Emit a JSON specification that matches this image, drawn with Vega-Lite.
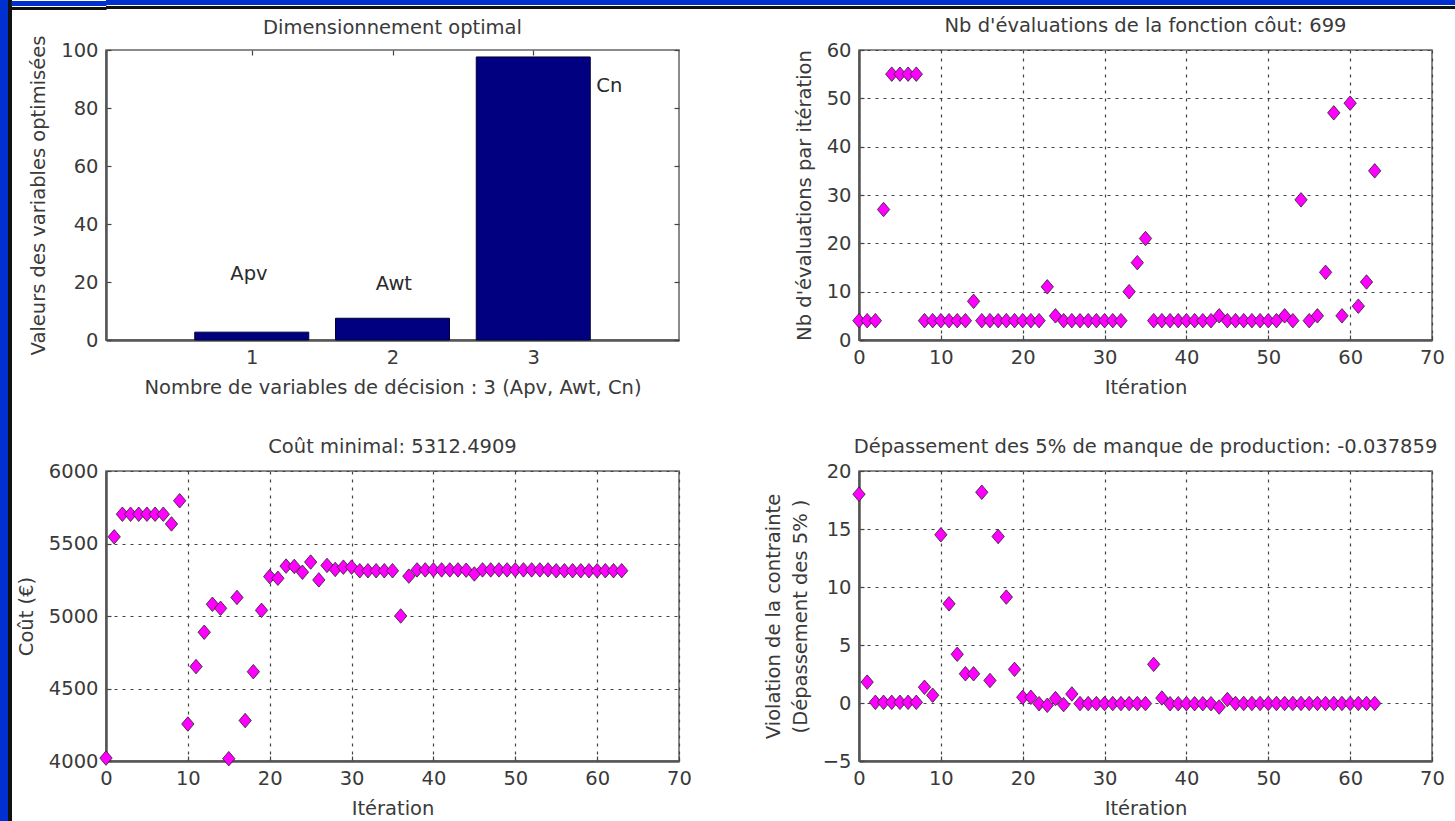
{
  "$schema": "https://vega.github.io/schema/vega-lite/v6.json",
  "background": "white",
  "padding": 0,
  "config": {
    "font": "DejaVu Sans",
    "view": {"stroke": "#666", "strokeWidth": 1.5},
    "axis": {
      "labelFont": "DejaVu Sans", "labelFontSize": 19.5, "labelColor": "#3a3a3a",
      "titleFont": "DejaVu Sans", "titleFontSize": 19.5, "titleFontWeight": "normal", "titleColor": "#3a3a3a",
      "domainColor": "#555", "domainWidth": 2.5, "tickColor": "#444", "tickSize": -5, "tickWidth": 1.2,
      "labelPadding": 13, "titlePadding": 12, "labelFlush": false, "labelOverlap": false,
      "gridColor": "#444", "gridDash": [3, 5], "gridWidth": 1.2, "gridOpacity": 1
    },
    "title": {"font": "DejaVu Sans", "fontSize": 19.5, "fontWeight": "normal", "color": "#3a3a3a", "offset": 3.5, "anchor": "middle", "frame": "group"}
  },
  "datasets": {
    "bars": [
      {"var": 1, "val": 2.7, "name": "Apv", "lx": 0.98, "ly": 22.7},
      {"var": 2, "val": 7.5, "name": "Awt", "lx": 2.01, "ly": 19.2},
      {"var": 3, "val": 97.6, "name": "Cn", "lx": 3.54, "ly": 87.6}
    ],
    "iters": [
      {"it": 0, "nb": 4, "cout": 4020, "viol": 18.0},
      {"it": 1, "nb": 4, "cout": 5546, "viol": 1.8},
      {"it": 2, "nb": 4, "cout": 5702, "viol": 0.06},
      {"it": 3, "nb": 27, "cout": 5702, "viol": 0.06},
      {"it": 4, "nb": 55, "cout": 5702, "viol": 0.06},
      {"it": 5, "nb": 55, "cout": 5702, "viol": 0.06},
      {"it": 6, "nb": 55, "cout": 5702, "viol": 0.06},
      {"it": 7, "nb": 55, "cout": 5702, "viol": 0.06},
      {"it": 8, "nb": 4, "cout": 5635, "viol": 1.36},
      {"it": 9, "nb": 4, "cout": 5795, "viol": 0.67},
      {"it": 10, "nb": 4, "cout": 4255, "viol": 14.5},
      {"it": 11, "nb": 4, "cout": 4651, "viol": 8.55},
      {"it": 12, "nb": 4, "cout": 4888, "viol": 4.2},
      {"it": 13, "nb": 4, "cout": 5081, "viol": 2.52},
      {"it": 14, "nb": 8, "cout": 5053, "viol": 2.52},
      {"it": 15, "nb": 4, "cout": 4016, "viol": 18.17},
      {"it": 16, "nb": 4, "cout": 5128, "viol": 1.94},
      {"it": 17, "nb": 4, "cout": 4279, "viol": 14.35},
      {"it": 18, "nb": 4, "cout": 4616, "viol": 9.13},
      {"it": 19, "nb": 4, "cout": 5039, "viol": 2.9},
      {"it": 20, "nb": 4, "cout": 5272, "viol": 0.49},
      {"it": 21, "nb": 4, "cout": 5260, "viol": 0.49},
      {"it": 22, "nb": 4, "cout": 5344, "viol": -0.06},
      {"it": 23, "nb": 11, "cout": 5342, "viol": -0.2},
      {"it": 24, "nb": 5, "cout": 5302, "viol": 0.38},
      {"it": 25, "nb": 4, "cout": 5372, "viol": -0.14},
      {"it": 26, "nb": 4, "cout": 5249, "viol": 0.78},
      {"it": 27, "nb": 4, "cout": 5349, "viol": -0.05},
      {"it": 28, "nb": 4, "cout": 5321, "viol": -0.05},
      {"it": 29, "nb": 4, "cout": 5337, "viol": -0.05},
      {"it": 30, "nb": 4, "cout": 5337, "viol": -0.05},
      {"it": 31, "nb": 4, "cout": 5312, "viol": -0.05},
      {"it": 32, "nb": 4, "cout": 5312, "viol": -0.05},
      {"it": 33, "nb": 10, "cout": 5312, "viol": -0.05},
      {"it": 34, "nb": 16, "cout": 5312, "viol": -0.05},
      {"it": 35, "nb": 21, "cout": 5312, "viol": -0.05},
      {"it": 36, "nb": 4, "cout": 5000, "viol": 3.33},
      {"it": 37, "nb": 4, "cout": 5275, "viol": 0.43},
      {"it": 38, "nb": 4, "cout": 5318, "viol": -0.06},
      {"it": 39, "nb": 4, "cout": 5318, "viol": -0.06},
      {"it": 40, "nb": 4, "cout": 5318, "viol": -0.06},
      {"it": 41, "nb": 4, "cout": 5318, "viol": -0.06},
      {"it": 42, "nb": 4, "cout": 5318, "viol": -0.06},
      {"it": 43, "nb": 4, "cout": 5318, "viol": -0.06},
      {"it": 44, "nb": 5, "cout": 5316, "viol": -0.35},
      {"it": 45, "nb": 4, "cout": 5290, "viol": 0.3},
      {"it": 46, "nb": 4, "cout": 5318, "viol": -0.04},
      {"it": 47, "nb": 4, "cout": 5318, "viol": -0.04},
      {"it": 48, "nb": 4, "cout": 5318, "viol": -0.04},
      {"it": 49, "nb": 4, "cout": 5318, "viol": -0.04},
      {"it": 50, "nb": 4, "cout": 5318, "viol": -0.04},
      {"it": 51, "nb": 4, "cout": 5318, "viol": -0.04},
      {"it": 52, "nb": 5, "cout": 5318, "viol": -0.04},
      {"it": 53, "nb": 4, "cout": 5318, "viol": -0.04},
      {"it": 54, "nb": 29, "cout": 5318, "viol": -0.04},
      {"it": 55, "nb": 4, "cout": 5312, "viol": -0.04},
      {"it": 56, "nb": 5, "cout": 5312, "viol": -0.04},
      {"it": 57, "nb": 14, "cout": 5312, "viol": -0.04},
      {"it": 58, "nb": 47, "cout": 5312, "viol": -0.04},
      {"it": 59, "nb": 5, "cout": 5312, "viol": -0.04},
      {"it": 60, "nb": 49, "cout": 5312, "viol": -0.04},
      {"it": 61, "nb": 7, "cout": 5312, "viol": -0.04},
      {"it": 62, "nb": 12, "cout": 5312, "viol": -0.04},
      {"it": 63, "nb": 35, "cout": 5312.49, "viol": -0.037859}
    ],
    "strip": [{"v": 0.5}]
  },
  "spacing": -4,
  "hconcat": [
    {
      "hconcat": [
        {"width": 8, "height": 821, "data": {"name": "strip"}, "mark": {"type": "rect", "color": "#0030d0"}, "encoding": {}, "view": {"stroke": null, "fill": "#0030d0"}},
        {"width": 4, "height": 821, "data": {"name": "strip"}, "mark": {"type": "rect", "color": "#111"}, "encoding": {}, "view": {"stroke": null, "fill": "#111"}}
      ],
      "spacing": 0
    },
    {
      "columns": 1,
      "spacing": 5,
      "concat": [
        {
          "spacing": 0,
          "vconcat": [
            {"width": 1352, "height": 5, "data": {"name": "strip"}, "view": {"stroke": null, "fill": "#0030d0"},
             "mark": {"type": "point", "opacity": 0, "size": 0, "strokeWidth": 0},
             "encoding": {"y": {"field": "v", "type": "quantitative", "scale": {"domain": [0, 1]},
               "axis": {"values": [0.5], "tickSize": 95, "tickWidth": 5, "tickColor": "#0030d0", "tickCap": "butt", "labels": false, "domain": false, "grid": false, "title": null}}}},
            {"width": 1352, "height": 3, "data": {"name": "strip"}, "view": {"stroke": null, "fill": "#111"},
             "mark": {"type": "point", "opacity": 0, "size": 0, "strokeWidth": 0},
             "encoding": {"y": {"field": "v", "type": "quantitative", "scale": {"domain": [0, 1]},
               "axis": {"values": [0.5], "tickSize": 95, "tickWidth": 3, "tickColor": "#111", "tickCap": "butt", "labels": false, "domain": false, "grid": false, "title": null}}}}
          ]
        },
        {
          "columns": 2,
          "spacing": {"row": 38, "column": 69},
          "concat": [
            {
              "width": 573, "height": 290,
              "title": {"text": "Dimensionnement optimal", "offset": -3},
              "data": {"name": "bars"},
              "layer": [
                {
                  "mark": {"type": "bar", "orient": "vertical", "size": 114, "fill": "#000080", "stroke": "#000030", "strokeWidth": 1},
                  "encoding": {
                    "x": {"field": "var", "type": "quantitative", "scale": {"domain": [0, 4], "nice": false, "zero": false},
                          "axis": {"values": [1, 2, 3], "format": "d", "grid": false, "title": "Nombre de variables de décision : 3 (Apv, Awt, Cn)"}},
                    "y": {"field": "val", "type": "quantitative", "scale": {"domain": [0, 100], "nice": false},
                          "axis": {"values": [0, 20, 40, 60, 80, 100], "format": "d", "grid": false, "title": "Valeurs des variables optimisées"}}
                  }
                },
                {
                  "mark": {"type": "text", "fontSize": 19.5, "color": "#2a2a2a", "font": "DejaVu Sans"},
                  "encoding": {
                    "x": {"field": "lx", "type": "quantitative", "scale": {"domain": [0, 4], "nice": false, "zero": false},
                          "axis": {"orient": "top", "values": [1, 2, 3], "labels": false, "domain": false, "grid": false, "title": null, "labelPadding": 0}},
                    "y": {"field": "ly", "type": "quantitative", "scale": {"domain": [0, 100], "nice": false},
                          "axis": {"orient": "right", "values": [0, 20, 40, 60, 80, 100], "labels": false, "domain": false, "grid": false, "title": null, "labelPadding": 0}},
                    "text": {"field": "name"}
                  }
                }
              ],
              "resolve": {"axis": {"x": "independent", "y": "independent"}}
            },
            {
              "width": 573, "height": 290,
              "title": "Nb d'évaluations de la fonction côut: 699",
              "data": {"name": "iters"},
              "mark": {"type": "point", "shape": "M-0.85,0L0,-1L0.85,0L0,1Z", "size": 210, "filled": true, "fill": "#ff00ff", "stroke": "#222", "strokeWidth": 0.8, "opacity": 1},
              "encoding": {
                "x": {"field": "it", "type": "quantitative", "scale": {"domain": [0, 70], "nice": false, "zero": false},
                      "axis": {"values": [0, 10, 20, 30, 40, 50, 60, 70], "format": "d", "grid": true, "title": "Itération"}},
                "y": {"field": "nb", "type": "quantitative", "scale": {"domain": [0, 60], "nice": false},
                      "axis": {"values": [0, 10, 20, 30, 40, 50, 60], "format": "d", "grid": true, "title": "Nb d'évaluations par itération"}}
              }
            },
            {
              "width": 573, "height": 290,
              "title": "Coût minimal: 5312.4909",
              "data": {"name": "iters"},
              "mark": {"type": "point", "shape": "M-0.85,0L0,-1L0.85,0L0,1Z", "size": 210, "filled": true, "fill": "#ff00ff", "stroke": "#222", "strokeWidth": 0.8, "opacity": 1},
              "encoding": {
                "x": {"field": "it", "type": "quantitative", "scale": {"domain": [0, 70], "nice": false, "zero": false},
                      "axis": {"values": [0, 10, 20, 30, 40, 50, 60, 70], "format": "d", "grid": true, "title": "Itération"}},
                "y": {"field": "cout", "type": "quantitative", "scale": {"domain": [4000, 6000], "nice": false, "zero": false},
                      "axis": {"values": [4000, 4500, 5000, 5500, 6000], "format": "d", "grid": true, "title": "Coût (€)"}}
              }
            },
            {
              "width": 573, "height": 290,
              "title": "Dépassement des 5% de manque de production: -0.037859",
              "data": {"name": "iters"},
              "mark": {"type": "point", "shape": "M-0.85,0L0,-1L0.85,0L0,1Z", "size": 210, "filled": true, "fill": "#ff00ff", "stroke": "#222", "strokeWidth": 0.8, "opacity": 1},
              "encoding": {
                "x": {"field": "it", "type": "quantitative", "scale": {"domain": [0, 70], "nice": false, "zero": false},
                      "axis": {"values": [0, 10, 20, 30, 40, 50, 60, 70], "format": "d", "grid": true, "title": "Itération"}},
                "y": {"field": "viol", "type": "quantitative", "scale": {"domain": [-5, 20], "nice": false, "zero": false},
                      "axis": {"values": [-5, 0, 5, 10, 15, 20], "format": "d", "grid": true, "titleLineHeight": 27, "title": ["Violation de la contrainte", "(Dépassement des 5% )"]}}
              }
            }
          ]
        }
      ]
    }
  ]
}
